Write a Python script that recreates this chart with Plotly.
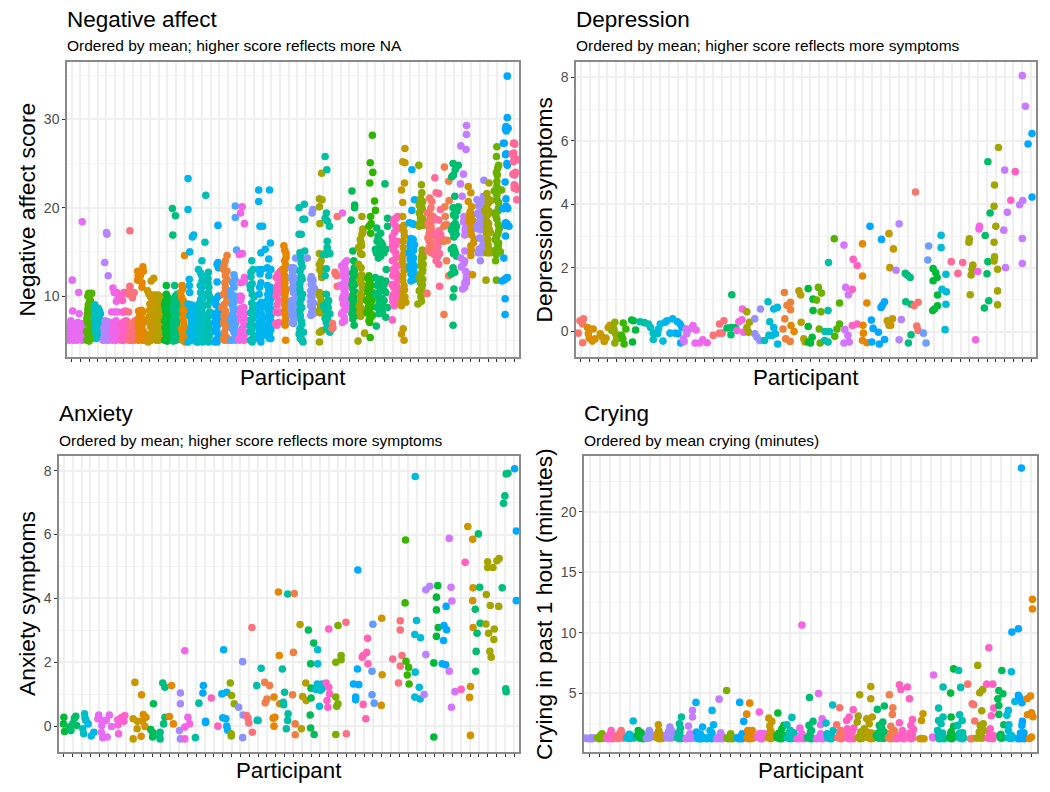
import plotly.graph_objects as go

# ---------- values: each row is one participant, (jittered position, value) ----------
na_colors = ["#E76BF3","#53B400","#00BFC4","#B983FF","#F066EA","#FF61C3","#FB727C","#E58700","#C99800","#B79F00",
             "#00BA38","#00BF7D","#E58700","#00B8E7","#00BFC4","#00BFB0","#00ACFC","#EC8239","#4FA5FF","#F564E3",
             "#00BFB5","#00B4EF","#00B4EF","#FF62BC","#E58700","#7C9AFF","#00BFAE","#8B93FF","#A3A500","#00C19F",
             "#F8766D","#EB6BF0","#00BC56","#A3A500","#2DB600","#00BE70","#FF61C3","#C49A00","#00B0F6","#8FAA00",
             "#F8766D","#FF6A98","#F17E4D","#00BE70","#C77CFF","#CF9400","#A58AFF","#A3A500","#6BB100","#00A9FF","#FF6A98"]
na_points = [
 [(1.05,11.8),(1.8,10.4),(1.1,8.3),(1.85,8.0),(2.2,18.4),(.7,5),(.7,5.8),(.7,6.6),(.9,7.2),(1,5.3),(1,6.2),(1.2,5),(1.25,6.8),(1.3,5.8),(1.6,5),(1.6,6.2),(1.7,7),(1.9,5.5),(1.95,6.5),(2.2,5),(2.2,5.9),(2.3,6.9),(2.4,5.4),(2.45,6.3)],
 [(2.75,5),(3,4.9),(3.3,5.2),(2.7,6),(3.1,6.3),(2.8,7),(3.15,7.4),(2.8,8),(3.1,8.4),(2.9,9),(3.15,9.5),(2.95,10.3),(3.3,10.3),(3.05,5.8)],
 [(3.65,9),(4.2,8.3),(3.6,7.5),(3.8,7.8),(4,7.2),(4.2,7.4),(3.9,6.6),(4.15,6.2),(3.8,5.8),(4,5.4),(3.7,6.9),(4.3,8)],
 [(4.8,13.8),(5.2,12.3),(5,17.2),(5.05,17),(4.85,7.2),(4.6,5),(4.9,5),(5.1,5.3),(4.75,5.9),(5.1,6.2),(4.9,6.8),(5.15,7.1),(4.7,6.4)],
 [(5.75,10.9),(5.6,8.2),(6.2,10.4),(5.7,5),(6.1,5),(6.3,5.6),(5.8,6.3),(6.15,6.9),(5.7,7),(6.3,8.2),(6,6),(6.3,6.7),(6.05,5.4)],
 [(6.7,10),(6.85,9.5),(7,10.4),(6.9,8.2),(6.7,5),(7.1,5.2),(6.8,6),(7.2,6.6),(6.9,7),(7.15,5.8),(7.3,7.2),(7,8.2),(7.2,8.3)],
 [(7.7,17.4),(7.7,11.1),(7.55,10.2),(8,10.4),(7.55,8.2),(7.6,5),(7.9,5),(8.2,5),(7.7,5.6),(8.1,5.7),(7.9,6.2),(7.7,6.9),(8.1,7),(8.3,7.2)],
 [(8.6,12.8),(9.2,13.3),(8.6,11.8),(9.1,11),(8.7,8.3),(9.2,8.2),(8.7,5),(9.2,5),(8.8,5.8),(9.25,6),(8.7,6.5),(9,7.1),(9.3,7.3),(8.75,7.6),(9.1,6.6),(9.35,5.3),(9,8)],
 [(10.15,11.7),(10.45,12),(9.9,10.2),(10.3,10.1),(10.55,9.7),(10.65,8.9),(10,9.1),(10.15,8),(10.55,7.4),(10,6.9),(10.45,6.3),(10,5.7),(10.55,5.2),(9.8,4.8),(10.15,5)],
 [(11,5),(10.8,5.8),(11.3,6.3),(10.7,6.9),(11.2,7.5),(10.9,8),(11.2,8.6),(11,9.4),(11.3,9.9),(10.8,5.2),(11.25,5.1),(11.05,6.7)],
 [(11.9,11.2),(11.9,10.2),(11.7,9),(12.1,9.3),(11.8,8.3),(12.2,8),(11.7,7.2),(12.1,7),(11.9,6.3),(12.2,5.8),(11.7,5),(12,4.9),(12.3,5.1),(11.95,5.5),(12.25,6.5),(11.75,8.9)],
 [(12.6,19.9),(12.95,19.1),(12.65,16.9),(12.85,11.2),(12.8,9.6),(13.2,9.4),(12.7,8.8),(13.1,8.6),(12.9,8),(13.2,7.8),(12.7,7.1),(13.1,7),(12.9,6.3),(13.25,6),(12.7,5.7),(13,5),(12.7,4.9),(13.3,5.1),(13.1,5.5)],
 [(14,14.6),(13.7,11.2),(13.55,10.4),(13.85,9.5),(14.05,8.7),(14.15,7.8),(13.65,6.3),(13.85,5.2),(14.05,4.8),(13.9,7)],
 [(14.4,23.3),(14.4,19.8),(14.9,16.7),(15.05,16.9),(14.6,15),(14.55,11.9),(14.55,11.2),(14.4,9.1),(15,8.9),(14.6,7.8),(15.2,8),(14.8,6.9),(14.6,5.9),(15.3,6.3),(15,5.2),(14.4,4.8),(15.4,4.8),(15.1,5.5)],
 [(16,14),(15.6,13),(16,12.3),(15.8,11.2),(16.15,10.2),(15.65,9.1),(16.15,8.9),(15.8,8),(16.35,7.8),(16,6.9),(15.8,5.7),(16.35,5.9),(16.1,4.8),(15.6,4.8)],
 [(16.45,21.4),(16.35,16.1),(16.75,12.7),(16.7,11.5),(16.75,10.4),(16.95,9.5),(16.55,5.2),(16.75,4.8),(16.65,7),(16.9,6.1)],
 [(17.85,18),(17.75,13.6),(17.9,13.2),(17.75,11.6),(17.9,10),(17.55,9.2),(17.75,8),(18.1,7.4),(17.45,7),(17.75,5.9),(17.45,4.8),(17.75,4.8)],
 [(18.9,14.6),(18.7,14),(18.5,13),(18.9,12.8),(18.9,11.9),(18.7,11),(18.5,10.2),(18.8,9.3),(18.3,8.7),(18.7,7.8),(18.9,6.7),(18.5,5.2),(19,5)],
 [(19.85,20.2),(19.85,18.9),(19.7,12.4),(19.55,11.5),(19.3,10.6),(19.7,9.3),(19.55,8),(19.9,6.9),(19.3,7.2),(19.7,5.9),(19.85,5),(20,15.2)],
 [(20.65,20.1),(20.45,19.4),(20.9,18.2),(20.65,14.8),(20.3,14.7),(20.9,12.1),(20.45,11.5),(20.55,9.9),(20.45,9.5),(20.85,8.7),(20.4,8),(20.9,7.4),(20.65,6.3),(20.2,5.2),(20.85,5),(21.2,5.9),(20.65,5.7)],
 [(21.75,14),(21.65,12.7),(21.55,11.2),(21.8,10.2),(22,8.9),(21.55,6.7),(22,5.5),(21.8,4.8),(22.2,7.8)],
 [(22.55,22),(22.55,20.7),(22.7,17.9),(23,17.9),(22.8,14.9),(23.3,15.3),(22.55,13),(22.6,10.2),(22.8,8.7),(22.55,8.2),(23,7.4),(22.6,6.3),(22.8,4.8),(23.2,5.9)],
 [(23.8,22),(23.9,16),(23.7,14.2),(23.55,13.2),(23.95,13),(23.7,12.3),(23.55,11.2),(23.6,10.2),(23.95,9.7),(23.6,8.5),(23.95,7.8),(23.8,6.9),(23.6,5.9),(23.8,5.2),(23.95,5.2)],
 [(25.05,12.8),(24.55,12.1),(24.75,11.2),(24.95,10.4),(24.55,10),(25.1,11.9),(24.55,8.2),(24.95,8.2),(24.65,6.7)],
 [(25.45,15.7),(25.7,14.8),(25.55,14),(25.3,13),(25.55,12.3),(25.55,11.5),(25.6,10.4),(25.65,9.5),(25.6,8.5),(25.65,7.4),(25.6,6.7),(25.65,5)],
 [(26.8,14.3),(26.3,13.2),(26.7,13),(26.3,12.1),(26.85,11.5),(26.55,10.4),(26.3,9.1),(26.7,8.9),(27.05,9.7),(26.7,8),(26.55,6.9)],
 [(27.3,14.9),(27.85,15.1),(27.2,17),(27.45,17),(27.2,20),(27.8,20.4),(27.65,18.7),(27.85,18.7),(27.45,13.8),(27.3,12.8),(27.55,11.9),(27.3,10.8),(27.45,9.7),(27.3,8.4),(27.45,7.2),(27.3,6.3),(27.45,5.2),(27.65,4.8),(27.2,5.7),(27.7,5.9)],
 [(28.7,19.4),(28.8,19.8),(28.15,14.3),(28.55,11.9),(28.8,11.2),(28.55,10),(28.65,9.7),(29,10.8),(28.55,8.9),(28.8,8.5),(28.55,7.8)],
 [(29.8,23.9),(29.55,21),(29.85,20.9),(29.55,20.1),(29.6,18.2),(29.55,14.8),(29.55,13.6),(29.75,12.8),(29.8,12.1),(29.55,10.4),(29.75,9.5),(29.55,8.4),(29.75,6),(29.55,5.9),(29.55,4.8),(29.85,6.1)],
 [(30.2,25.8),(30.4,24.3),(30.35,19.4),(30.2,18.8),(30.45,18.5),(30.7,17.9),(30.45,16.2),(30.45,15.5),(30,14.7),(30.75,14.8),(30.35,13.1),(30.2,12.3),(30.35,10.2),(30.6,9.5),(30,8.9),(30.35,8.2),(30.75,8),(30.35,7),(30.75,5.9)],
 [(31.35,12.7),(31.55,12.3),(31.6,11.1),(31.05,6.9),(31,6.3),(31.6,19)],
 [(32.5,13.8),(32.1,13.4),(32.7,14),(32.3,12.7),(32.7,11.9),(31.95,11.2),(32.5,10.4),(32.2,9.7),(32.6,8.7),(32.1,8),(32.45,7.2),(32.2,7),(32.7,9.5),(32.2,19.4)],
 [(33.3,21.9),(33.6,20.3),(33.6,20),(33.2,18.6),(33.4,15.1),(33.5,14),(33.55,12.8),(33.5,12.3),(33.3,11.3),(33.7,10.4),(33.3,9.7),(33.7,9.1),(33.3,8),(33.75,7.8),(33.55,6.7)],
 [(34.45,19),(34.55,17.3),(34.25,16.4),(34.05,15.5),(34.45,14.7),(34.05,13.6),(34.25,11.9),(34.55,11.2),(34.25,10.2),(34.15,8.9),(34.45,8),(34,4.9),(34.75,5.8)],
 [(35.65,28.2),(35.4,25.1),(35.7,24),(35.35,22.8),(35.9,20.75),(36,19.7),(35.45,19),(35.5,18.2),(35.25,17.9),(35.45,17.1),(35.25,12.3),(35.25,11.3),(35.65,10.4),(35,9.5),(35.45,8.7),(35,8.2),(35.65,7.8),(35.25,7.2),(35.4,5.3)],
 [(37.1,22.7),(36.15,17.7),(36.6,17.1),(36.2,16.2),(36.8,15.8),(36,15.3),(36.6,15.5),(37.2,15.3),(36.35,14.3),(37.25,13),(36,12.1),(36.6,11.9),(37.2,11.7),(36.2,11.2),(36.8,10.8),(36,10.2),(36.6,9.7),(37.2,10.4),(36.2,8.7),(36.8,8.9),(37.4,8.7),(36.4,8),(37.2,7.6),(36.1,6.6),(37.4,18.8),(37.4,17.9)],
 [(38.15,18.7),(38.55,19),(38.35,17.9),(37.95,16.7),(38.55,16.2),(37.95,15.7),(38.35,14.9),(37.95,14),(38.55,13.4),(38.15,12.7),(38.55,11.9),(37.9,11.3),(38.35,10.4),(37.95,9.9),(38.55,9.5),(38.15,8.9),(37.95,7.3)],
 [(39.4,26.7),(39.15,25.2),(39.4,25.1),(39.35,22.8),(39,22),(39.15,20.6),(39.15,19),(39.3,17.3),(39.2,16.2),(39.15,14.5),(39.3,13.4),(39.15,12.3),(39.3,11.2),(39.15,9.9),(39.5,9.3),(39,8.9),(39.2,6.3),(39,5.7),(39.3,5)],
 [(40.2,24.3),(40.5,20.9),(40.2,19.7),(39.9,18.3),(40.5,18.1),(40.1,16.2),(40.5,15.8),(39.9,14.9),(40.4,14.3),(40,13.4),(40.5,13.4),(40.1,12.5),(40.5,12.3),(40.1,11.7)],
 [(41,24.8),(41.3,22.6),(41.35,21.7),(41.45,20.7),(41.05,20.3),(41.05,19.4),(41.45,18.7),(41.05,17.9),(41.45,14.9),(41.3,14),(41.45,13),(41.05,12.1),(41.4,11.3),(41.05,10.6),(41.25,9.9),(40.9,9.1)],
 [(41.95,10.3),(42.25,21.1),(41.95,19.4),(42.65,19),(42.05,18.3),(42.45,17.5),(42.05,16.6),(42.45,16),(42.05,15.1),(42.55,15.5)],
 [(42.85,23.4),(43,21.7),(43.3,21.6),(43.5,19.8),(43,18.7),(42.8,17),(43.4,17),(43.2,16.4),(43.8,16.4),(43.2,15.6),(42.8,14.7),(43,14),(43.3,13.6),(43.4,11.1)],
 [(43.95,24.6),(44.45,23),(44.5,20.8),(44,20.1),(44.2,18.1),(43.9,17.9),(43.9,16.2),(44.2,14),(44.45,12.3),(43.9,7.9)],
 [(44.95,25),(45.55,24.8),(45.2,24.3),(45,23.7),(44.8,23.5),(45.15,21.3),(44.95,20),(45.55,20.1),(45.2,19),(44.75,17.5),(45.35,17.9),(44.95,17.2),(44.75,15.3),(45.15,15.1),(45.35,14.5),(44.95,13.2),(45.15,12.7),(44.75,12.5),(45.05,10.8),(44.95,9.9),(44.95,6.7)],
 [(46.5,29.3),(46.5,28.3),(45.85,27),(46.45,26.6),(46.15,23.8),(45.8,22.7),(46,21.3),(46.2,19),(46.45,17.9),(46.5,17),(46.3,15.1),(45.85,14.3),(45.9,13.3),(46.4,12.8),(46.7,12.5),(46.5,11.5),(46.3,11),(46.05,10.8)],
 [(46.7,22.4),(47,21.7),(46.7,20.7),(47.1,20.1),(46.85,19),(47.25,18.5),(47,17.5),(47.4,16.4),(47,15.7),(47,14.6),(47.2,12.4)],
 [(48.5,23.1),(47.7,20.9),(48.45,21.3),(48.1,20.5),(47.8,19.4),(48.5,19),(47.7,17.9),(48.15,17.5),(48,16.6),(48.4,15.7),(47.85,14.9),(48.3,14.9),(48.1,14)],
 [(49.1,22.8),(48.85,21.6),(49,20.5),(48.6,19.6),(49.2,19.4),(48.8,18.5),(49.25,17.2),(48.8,17.1),(49,15.8),(48.85,14.9),(49.2,14.9),(48.75,11.8)],
 [(50,26.9),(49.95,25.8),(50.2,24.8),(50.05,23.7),(50,23),(49.7,21.9),(50.55,22),(50,20.9),(50.2,20),(49.8,19.4),(50,18.7),(50.3,17.7),(50.1,17),(49.8,16.4),(50.2,16),(50,15.1),(50.4,15),(49.85,14),(49.95,11.8)],
 [(51.2,34.9),(51.2,30.2),(51.05,29.2),(51.3,29),(51.1,28.7),(50.75,27.3),(51,26),(51.2,24.8),(50.95,22.9),(51.05,21),(50.8,19.9),(51.25,19.9),(51,18.3),(51.4,17.9),(51,16.8),(50.8,14.3),(50.6,11.7),(51.2,12.1),(50.95,9.7),(50.95,7.9)],
 [(52,27.3),(51.75,26.1),(52.25,25.4),(51.85,23.8),(52,22.6),(52,22.2),(52.3,20.9),(52.05,23.7),(51.95,25.8)],
]
# the dense chains of the same 51 participants, a second reading of the columns
na_more_points = [
 [(.8,5.4),(1.1,5.8),(1.5,5.4),(1.5,6.7),(.95,6.8),(1.8,5.9),(2.1,6.4),(2.1,5.4),(1.35,5.2),(1.35,6.4)],
 [(2.9,5.5),(3.2,6),(3,6.8),(3.05,7.7),(2.85,8.5),(3.05,9.5),(3.2,8.9),(2.75,7.5),(2.85,10)],
 [(3.7,6.3),(4.05,5.9),(3.9,7.4),(4.1,6.8),(3.85,5.2),(4.3,7),(3.6,8.4),(4.05,8.6)],
 [(4.8,5.4),(5.05,5.7),(4.95,6.4),(5.2,6.6),(4.7,5.2),(5.2,5)],
 [(5.9,5.3),(5.85,5.8),(6.2,6.2),(5.9,6.6),(6.1,7.2),(5.65,5.9),(6,8.2),(5.9,10.4),(6.35,9.9),(6.15,9.4)],
 [(6.85,5.4),(7,5),(7.25,5.4),(6.95,6.4),(7.3,6.1),(7.1,7.1),(6.75,6.8)],
 [(7.75,5.2),(8.05,5.3),(8.3,5.4),(7.85,5.8),(8.25,6.2),(8,6.7),(8,9.8),(8.2,10.4),(7.65,10.6)],
 [(8.65,7.1),(8.9,8),(9.05,8.4),(8.9,5.3),(9.1,5.7),(9,6.2),(8.8,7),(9.2,7),(8.9,12.3),(9.25,12.8),(8.65,12.3),(9.1,11.5),(9.4,5)],
 [(9.85,5.3),(10.4,5.8),(10.1,6.5),(10.3,7),(9.9,7.6),(10.25,7.9),(10.5,8.3),(9.95,8.4),(10.35,9.3),(10.1,9.9),(10.6,10.1),(9.75,10.6)],
 [(10.75,5),(11.1,5.5),(10.95,6.2),(11.3,6.9),(10.85,7.4),(11.05,7.8),(11.25,8.1),(10.8,8.6),(11,8.9),(11.15,9.6),(10.95,10.1),(11.3,5.7)],
 [(11.85,5.8),(12,6.6),(12.25,7.3),(11.9,7.7),(12.1,8.2),(11.8,9.4),(12.1,9.8),(12,8.6),(11.75,6.4),(12.15,5.2),(11.85,5.1)],
 [(12.85,5.4),(13.05,5.9),(12.75,6.5),(13.05,6.6),(13.25,7.2),(12.9,7.5),(13.1,8.1),(12.75,8.3),(13,9),(13.25,8.9),(12.95,10),(13.15,10.2)],
 [(13.75,5),(14.1,5.5),(13.75,5.8),(14,6.5),(13.8,7.6),(14.05,8),(13.8,8.4),(13.95,9),(13.65,9.9),(13.8,10.8),(14.1,6)],
 [(14.75,5),(14.95,5.7),(15.2,5.2),(14.7,6.3),(15.05,6.5),(15.25,7),(14.75,7.4),(14.95,7.6),(15.3,7.6),(14.7,8.5),(15.1,8.4),(14.75,9),(14.6,10.4),(14.8,5.4),(15.35,5.6)],
 [(15.75,5),(16.05,5.3),(16.3,5.4),(15.65,6.4),(16.1,6.2),(16.3,6.7),(15.85,7.4),(16.1,7.5),(15.7,8.5),(16,8.4),(15.85,9.6),(16.1,9.7),(15.85,10.4),(16,11),(16,11.7),(15.85,12.6),(16.3,7.1)],
 [(16.6,5),(16.85,5.5),(16.6,6),(16.8,6.5),(16.75,7.7),(16.9,8.2),(16.7,9),(16.85,10),(16.8,11),(16.7,12)],
 [(17.6,5),(17.9,5.4),(17.5,6),(17.65,6.4),(17.9,6.8),(17.55,7.6),(17.85,7.6),(17.45,8),(17.95,8.4),(17.65,9),(17.65,9.7),(17.85,13.8)],
 [(18.6,5),(18.85,5.3),(18.6,5.9),(18.75,6.4),(18.5,7),(18.8,7.4),(18.55,7.7),(18.7,8.3),(18.55,9),(18.8,10),(18.7,10.5),(18.65,11.5),(18.7,12.3),(18.55,13.5)],
 [(19.4,5),(19.7,5.2),(19.5,6.3),(19.8,6.3),(19.5,7),(19.75,7.5),(19.45,7.6),(19.6,8.5),(19.85,8.5),(19.5,9),(19.55,9.7),(19.8,10),(19.7,11),(19.8,11.9),(19.35,10)],
 [(20.35,5),(20.6,5.2),(20.85,5.5),(20.45,5.8),(20.6,6),(20.85,6.7),(20.45,7.3),(20.65,7.7),(20.85,8),(20.5,8.6),(20.65,8.3),(20.45,10),(20.75,11.6),(20.9,11.8)],
 [(21.6,5),(21.85,5.2),(21.55,6),(21.8,6.3),(22,6.6),(21.65,7.3),(21.9,7.5),(21.6,8.1),(21.85,8.6),(21.75,9.2),(22,9.9),(21.6,10.8),(21.8,11.4),(21.65,12.2),(21.9,13)],
 [(22.6,5.1),(22.85,5.4),(22.6,5.8),(22.95,6),(22.7,6.6),(23.05,6.7),(22.6,7),(22.85,7.2),(22.6,7.7),(22.85,8),(22.6,9),(22.85,9.3),(22.65,11),(22.8,11.5),(22.7,12.5),(22.9,13)],
 [(23.6,5.5),(23.8,5.8),(23.95,6.2),(23.6,6.6),(23.75,7.4),(23.95,7.2),(23.55,7.6),(23.75,8.2),(23.95,8.5),(23.55,8.9),(23.8,9.2),(23.6,9.6),(23.9,10.4),(23.7,10.8),(23.9,11),(23.75,13)],
 [(24.5,6.9),(24.85,7),(24.75,8.1),(24.65,9),(24.85,9.5),(24.6,10.6),(24.9,10.8),(24.6,11),(24.9,11.5),(24.75,12.5),(24.95,12)],
 [(25.55,7),(25.65,7.8),(25.6,8),(25.55,9),(25.7,9),(25.55,10),(25.7,10.7),(25.55,11),(25.65,12),(25.55,13),(25.65,13.5),(25.7,14.4),(25.55,15.2)],
 [(26.4,7),(26.35,7.8),(26.7,7.5),(26.3,8.5),(26.55,8.3),(26.85,8.7),(26.4,9.5),(26.7,9.4),(26.85,10),(26.45,10.9),(26.7,10.8),(26.5,11.6),(26.8,12),(26.45,12.7),(26.55,13.2)],
 [(27.3,9.2),(27.5,8.7),(27.35,10.3),(27.6,10.2),(27.3,11.4),(27.45,12.2),(27.55,13.3),(27.4,14.4),(27.35,7.8),(27.5,6.8),(27.3,5.8),(27.45,6),(27.55,5),(27.35,5.2)],
 [(28.55,9.4),(28.85,9.2),(28.55,10.6),(28.85,10.2),(28.6,11.3),(28.8,11.8),(28.65,8.2),(28.85,8),(28.6,12.2)],
 [(29.6,13),(29.7,13.2),(29.75,14),(29.8,12.5),(29.6,10),(29.8,10.2),(29.65,9),(29.7,8.8),(29.6,8.1)],
 [(30.2,7.5),(30.5,7.3),(30.25,8.6),(30.55,8.7),(30.3,9),(30.5,9.3),(30.35,6.3),(30.55,6.6),(30.55,7.9),(30.4,15),(30.55,14.9),(30.3,14.7)],
 [(31.1,6.4),(31.4,12.5)],
 [(32.4,13.6),(32.55,13),(32.3,13),(32.6,12.4),(32.35,12.2),(32.55,11.5),(32.3,11.4),(32.6,11),(32.35,10.8),(32.6,10.1),(32.3,10),(32.55,9.2),(32.3,9.1),(32.5,8.4),(32.25,8.2),(32.4,7.6)],
 [(33.4,11.8),(33.6,11.3),(33.4,10.8),(33.6,10.1),(33.4,10.1),(33.55,9.5),(33.4,9),(33.6,8.7),(33.4,8.5),(33.55,8.2),(33.4,7.4),(33.6,12.3),(33.35,12.6),(33.55,13.2)],
 [(34.3,14.8),(34.4,15.7),(34.35,16.1),(34.45,17),(34.55,17.6),(34.35,13.2),(34.4,12.4),(34.3,11.5),(34.5,10.9),(34.4,10),(34.3,9.5),(34.35,8.6),(34.5,8.4),(34.3,7.7),(34.2,8.2)],
 [(35.1,12),(35.4,11.8),(35.2,11),(35.5,11.2),(35.1,10.5),(35.4,10),(35.6,9.5),(35.2,9.7),(35.5,8.9),(35.2,8.8),(35.45,8),(35.2,8),(35.4,7.5),(35.35,7)],
 [(36.3,16.8),(36.5,16.2),(36.7,16),(36.4,15.4),(36.85,15),(36.3,15),(37,14.9),(36.6,14.5),(36.1,14.9),(36.35,11.5),(36.8,11.5),(37,11.3),(36.4,10.4),(36.6,10.8),(37,10.6),(36.4,9.7),(36.8,9.7),(36.4,9),(37,9.5),(36.6,8.5),(36.8,8.1)],
 [(38.2,17.2),(38.5,17.6),(38.1,18.3),(38.4,18.8),(38,16.2),(38.35,15.8),(38.1,15.2),(38.4,14.4),(38.15,14),(38.4,13.4),(38.05,13),(38.4,12.6),(38,12.3),(38.4,11.3),(38.1,11),(38.5,10.9),(38.1,10.2),(38.5,10),(38,9.4),(38.35,9.1),(38.1,9.7)],
 [(39.3,18),(39.1,17.8),(39.35,16.8),(39.2,15.5),(39.3,14.9),(39.1,13.9),(39.3,12.9),(39.15,11.8),(39.35,10.7),(39.15,10.5),(39.4,9.9),(39.05,9.4)],
 [(40.1,16.5),(40.35,16.4),(40,15.8),(40.2,15.5),(40.4,15.2),(40.05,15.2),(40.2,14.6),(40,14.2),(40.3,13.8),(40.1,13.9),(40.3,13),(40,13),(40.2,12.6),(40.4,12.8),(40.3,12),(40.5,11.9),(40.25,18.2)],
 [(41.2,21),(41.3,20.4),(41.2,19.7),(41.4,19.9),(41.2,18.9),(41.45,18),(41.15,18.3),(41.4,15.2),(41.5,14.4),(41.35,14.5),(41.5,13.6),(41.25,13.4),(41.4,12.7),(41.2,12.5),(41.45,11.9),(41.2,11.5),(41.35,10.9),(41.25,10.4),(41.3,9.4)],
 [(42.2,19.4),(42.4,20),(42.3,18.7),(42.5,18.5),(42.15,17.8),(42.4,17.9),(42.2,17.1),(42.5,16.8),(42.2,16.2),(42.4,15.6),(42.2,15.5),(42.45,14.9),(42.5,20.7)],
 [(43.3,18.6),(43.5,17),(43.35,16.2),(43.55,16.2),(43.15,15),(43.4,14.8),(43.15,14.4),(43.35,17.4)],
 [(44,18),(44.3,16.3),(44.05,19)],
 [(45,19.2),(45.4,19.6),(45.2,18.2),(45,18),(45.3,17),(45.05,16.7),(45,15.5),(45.2,14.8),(45,14.8),(45.2,17.5)],
 [(46.15,18.4),(46.35,17.5),(46.3,16.9),(46.5,11.9),(46.3,11.5),(46.5,12.2),(46.2,13.7),(46.3,14)],
 [(46.9,19.5),(47.15,19.2),(46.8,18.4),(47.05,18.2),(47.3,17.7),(47.1,16.9),(47.3,16),(47.05,15.2)],
 [(47.9,20.2),(48.25,20.8),(48.4,20),(47.9,19.2),(48.3,18.5),(47.95,18.4),(48.3,17.9),(47.8,17.6),(48.2,16.5),(48.45,16),(47.95,15.3),(48.25,15.5),(48.1,18.9)],
 [(49,21),(49.3,20.8),(48.8,20),(49.1,19.6),(48.85,19.1),(49.05,18.2),(48.8,17.8),(49.15,17.5),(48.95,16.4),(49.1,15.3)],
 [(50.1,24.5),(49.95,24),(50,22.4),(50.3,22),(50,21.4),(50.2,20.6),(50.1,19.6),(49.9,19),(50.15,18.1),(50.2,17.4),(49.95,16.7),(50.15,15.6),(49.85,15.2),(49.95,14.7),(50.05,16)],
 [(51,28.9),(50.85,27.3),(51.05,26.1),(51.15,25),(51.05,20.2),(51.2,20),(51,18),(51.15,18.2),(50.8,11.8),(51.05,12),(50.65,19.9)],
 [(51.9,27.3),(52.05,27.2),(51.95,26.2),(52.2,25.5),(51.9,25.2),(52.1,25.5),(52.15,24),(52.1,22.5),(52.3,22.1)],
]

dep_colors = ["#F8766D","#D89000","#C99800","#C49A00","#8FAA00","#39B600","#00BA38","#00BFA5","#00BFC4","#00BAE0",
              "#00B4EF","#00B0F6","#D575FE","#EB6BF0","#F066EA","#FA7476","#FB727C","#00BE67","#F564E3","#A3A500",
              "#9590FF","#00BFC4","#00B9E3","#EC8239","#E58700","#B79F00","#00BA38","#6BB100","#00BFAE","#53B400",
              "#D575FE","#FF61C3","#E58700","#00A9FF","#00A9FF","#C49A00","#B983FF","#00BF7D","#F8766D","#6F9EFF",
              "#00BA38","#00BCD8","#FF6A98","#FF6A98","#A3A500","#F564E3","#00BE67","#A3A500","#C77CFF","#FF61C3","#C77CFF","#00A9FF"]
dep_points = [
 [(.7,-.05),(.9,.34),(1.3,.4),(1.2,.24),(1.2,-.35)],
 [(1.75,.13),(2,.08),(2.4,.08),(1.85,-.07),(1.95,-.21),(2.3,-.3),(2.6,-.23)],
 [(3.2,-.07),(3.45,-.18),(3.65,-.31)],
 [(4.1,.13),(4.3,.2),(3.85,-.2)],
 [(4.85,.29),(4.75,.08),(4.95,-.07),(5.05,-.23),(4.85,-.36),(4.5,.03)],
 [(5.8,.27),(6.1,.08),(5.6,-.12),(5.9,-.39),(5.75,-.23)],
 [(6.75,.36),(6.95,.34),(7.2,.05),(6.85,-.33)],
 [(7.7,.31),(8.65,.24),(8.2,.28)],
 [(8.9,.13),(9.2,-.05),(9.2,-.25),(9.7,-.07)],
 [(9.8,.08),(10,.24),(10.3,-.3),(10.55,.29)],
 [(10.75,.34),(11.1,-.05),(11.4,.4),(11.7,-.05)],
 [(11.95,.31),(12.25,.24),(12.45,.13),(12.3,-.36),(12,-.07)],
 [(12.6,-.23),(12.9,.08),(13,-.07),(13.3,.08),(12.7,-.31)],
 [(13.7,.19),(14.05,.05),(13.95,-.36),(14.45,-.36)],
 [(14.8,-.26),(15.3,-.35)],
 [(16,-.12),(16.7,-.05)],
 [(16.7,.24),(17.2,.34),(17,-.05)],
 [(17.55,.11),(18,.13),(18.1,1.16),(18,-.1),(18.5,.13)],
 [(18.7,.03),(18.9,.31),(19.25,.37),(19.3,.71),(19.45,-.02)],
 [(19.8,.62),(20.1,.29),(19.8,.13),(20,-.02)],
 [(20.7,.4),(20.7,-.07),(20.95,-.18),(21.35,.71),(21.25,-.28)],
 [(21.8,-.28),(22.2,.94),(22.4,.31),(22.3,-.12)],
 [(22.85,.71),(23.25,.76),(22.85,.13),(23.05,-.07),(23.3,-.39),(22.65,-.12)],
 [(24.05,1.23),(24.1,.4),(24.35,.83),(24.75,.92),(24.75,.69),(24.2,-.23),(24.7,-.31),(23.9,.08)],
 [(24.8,.19),(25.15,0)],
 [(25.7,1.28),(25.9,1.15),(25.95,.29),(26.25,-.23),(26.4,-.33)],
 [(26.75,-.33),(26.75,1.35),(26.75,.16),(27.3,1.02),(27.3,.66),(27.2,-.18),(27,-.36)],
 [(27.7,.99),(27.9,1.39),(28.25,1.21),(28.2,.62),(28,.08),(28.1,-.36)],
 [(29,.66),(29.05,2.17),(28.65,0),(29.15,0),(29,-.33),(28.6,-.28)],
 [(29.7,2.92),(30.3,.9),(29.75,-.15),(30,.08),(30.3,.24)],
 [(30.8,2.72),(30.9,.06),(31,1.39),(31.3,1.16),(30.8,-.36),(31.4,-.33),(31.25,-.12)],
 [(31.75,1.33),(31.85,2.27),(32.3,2.08),(31.75,.19),(32.3,.24)],
 [(32.9,2.76),(32.9,1.75),(33.4,.9),(32.95,.2),(33,-.05),(32.9,-.28),(33.4,-.35)],
 [(33.75,3.31),(33.9,.36),(34.1,.1),(33.95,-.33),(34.7,-.02)],
 [(34.8,-.39),(35.05,2.9),(35,.76),(35.4,.94),(35.15,.83),(35.4,-.25)],
 [(35.9,3.08),(36.4,2.6),(36,2.01),(35.9,.2),(36.3,.4),(35.7,.34),(36.1,.2)],
 [(36.7,1.93),(37.05,3.39),(37.3,.38),(37.05,-.26)],
 [(37.75,1.83),(38,1.77),(38.3,1.7),(37.8,.94),(38.4,.86),(38.4,-.1),(38.1,-.36)],
 [(38.9,4.39),(38.75,.81),(39.2,.92),(39.05,.17),(39.2,.03)],
 [(39.8,-.05),(40.1,-.36),(40.4,2.69),(40.3,2.25)],
 [(40.9,1.98),(41.2,1.85),(41.35,1.7),(40.9,1.6),(40.85,.66),(41.05,.71),(41.4,.81),(41.4,1.15)],
 [(41.8,3.03),(41.8,2.64),(42.35,1.8),(41.9,1.33),(42.4,1.25),(42.35,.86),(42.25,.06)],
 [(42.95,2.2)],
 [(43.7,1.83),(44.25,2.17)],
 [(44.95,2.81),(45,2.92),(45.4,2.09),(45.2,1.78),(45.1,1.16),(45.3,1.96)],
 [(45.95,1.89),(45.7,-.26),(46.15,3.31),(46.1,3.23)],
 [(46.8,3.02),(47.1,5.34),(47.35,3.73),(47.1,2.2),(47,1.82),(47.2,.97),(46.7,.74)],
 [(48.3,5.79),(47.85,4.61),(47.8,3.94),(48,3.31),(47.8,2.81),(47.85,2.35),(47.8,2.22),(48.2,1.96),(48.2,1.28),(48.2,.84)],
 [(49,5.08),(49.3,3.75),(48.9,3.19),(49.1,2.01)],
 [(50.2,5.03),(49.7,4.13)],
 [(51,8.05),(51.35,7.09),(50.7,3.99),(51.05,4.12),(51,2.93),(51,2.14)],
 [(52.1,6.23),(51.65,5.9),(52.1,4.23)],
]

anx_colors = ["#00BA38","#00BE67","#00BFC4","#00B8E7","#E76BF3","#E76BF3","#F564E3","#FF61CC","#C49A00","#D89000",
              "#00BC56","#00BF7D","#E58700","#A58AFF","#F564E3","#00C19F","#00A9FF","#FF61C3","#00B0F6","#8FAA00",
              "#8B93FF","#FB727C","#00BFAE","#F17E4D","#E58700","#00BFA5","#EF7F45","#B79F00","#00BC56","#00BDD2",
              "#FF61C9","#7CAE00","#FB7085","#00ACFC","#FF63B6","#619CFF","#CF9400","#FF6C91","#FB727C","#39B600",
              "#00BCD8","#B983FF","#00BA38","#00A9FF","#D575FE","#FF61C3","#CF9400","#00BE70","#A3A500","#A3A500","#00BF7D","#00A9FF"]
anx_points = [
 [(1,.28),(.96,.07),(1.08,-.17)],
 [(1.8,-.14),(2,.07),(2.2,.25),(2.35,.31),(2.45,.02),(1.6,-.03)],
 [(3.35,.39),(3.5,.18),(3.15,-.08),(3.25,-.24),(3.4,.25)],
 [(3.75,.07),(4.1,-.31),(4.4,-.19)],
 [(4.95,.35),(4.85,.23),(5.3,.18),(5.3,.02),(5.25,-.19),(5.4,-.36)],
 [(5.9,-.34),(6.15,.35),(5.8,.18),(6.4,-.01)],
 [(7.2,-.24),(7.15,.04),(7.1,.2)],
 [(7.55,.28),(7.9,.33),(7.8,.15)],
 [(8.85,.23),(9.05,1.37),(9.35,.15),(8.85,-.4),(9.3,-.08)],
 [(9.8,.98),(10,.36),(10.3,.28),(9.75,-.32),(10.2,-.01),(9.9,.15)],
 [(11.15,.7),(10.85,-.11),(11.05,-.34),(11.1,-.21)],
 [(11.9,-.4),(11.9,-.19),(12.2,1.35),(12.45,1.22),(12.45,.28),(12.3,.07),(11.8,-.29)],
 [(12.95,.3),(13.2,1.27),(13.4,.07)],
 [(14.2,1.04),(14.2,.7),(14.1,-.14),(14.2,-.4)],
 [(14.7,2.36),(14.7,-.4),(14.7,-.03),(15.05,.28),(15.25,.07)],
 [(15.9,-.36),(16.3,.72)],
 [(16.8,1.27),(16.75,1.04),(17.05,.15),(17.05,.11)],
 [(17.7,.88),(18.45,0)],
 [(18.9,1.01),(19.45,1.06),(19.1,2.39),(19,.26),(19.35,.23),(19.45,0),(19.55,-.13)],
 [(19.85,1.35),(20,.96),(20.3,.7),(19.95,-.24),(19.95,-.31)],
 [(20.8,.59),(21.25,2.02),(21.3,.35),(21.25,-.36)],
 [(21.7,.33),(21.95,.1),(21.85,.25),(22.3,3.09),(22.35,-.19)],
 [(22.9,.18),(23,.18),(23.35,1.81),(22.85,1.27)],
 [(23.75,1.37),(24.3,1.27),(24,.85),(23.8,.73)],
 [(24.8,.91),(25.3,4.2),(25.4,2.21),(25.45,.7),(24.9,.28),(24.7,.25),(24.8,0)],
 [(26.35,4.14),(25.75,1.79),(26,1.06),(25.85,.75),(25.9,.67),(26.2,-.08),(26.4,.39),(26.35,.18)],
 [(27.1,4.15),(27,2.31),(26.9,.98),(27.2,.07),(27.2,-.27)],
 [(27.75,3.18),(28.4,1.35),(28.05,.93),(28.45,.8),(27.9,-.08)],
 [(28.7,3.01),(29.3,2.6),(28.95,1.95),(29,1.19),(29,.88),(28.9,.35),(28.95,-.06),(29.35,-.26)],
 [(29.75,2.39),(29.75,1.95),(29.7,1.32),(29.55,1.15),(29.95,.62),(30.25,1.17),(30.25,1.32),(30.05,1.12)],
 [(31,3.04),(30.7,1.35),(31,1.22),(31.1,1.01),(30.8,.8),(30.9,.59)],
 [(32.05,3.15),(31.8,2),(32.4,2.21),(32.4,2.08),(31.8,.91),(32.05,.7),(31.9,.62),(31.8,-.26)],
 [(32.95,3.25),(33,-.24)],
 [(33.8,1.32),(34.25,1.79),(34.05,.91),(34.05,.83),(34.4,1.3),(34.3,4.89)],
 [(35.4,2.75),(35.3,2.31),(34.9,2.21),(34.8,2.16),(35.45,1.95),(34.9,.68),(35.2,.23)],
 [(36,3.19),(35.9,1.72),(35.9,.98),(36.15,.72)],
 [(37,3.38),(37.05,1.61),(36.95,.65)],
 [(38.25,2.1)],
 [(39.1,3.3),(39.1,3.01),(39.3,2.21),(39.1,1.88),(38.9,1.35)],
 [(39.7,5.83),(39.65,3.86),(39.75,2.03),(40.05,1.84),(39.9,1.6),(40.1,1.32)],
 [(40.8,7.82),(40.95,3.31),(40.75,2.87),(41.4,2.77),(40.8,1.69),(41.25,1.22),(40.75,.91),(41.35,.85)],
 [(42,4.27),(42.45,4.38),(42,2.24),(41.8,.99)],
 [(43.35,4.4),(43.2,4.04),(43.2,3.64),(43.4,3.09),(43.2,2.81),(42.9,1.98),(42.9,-.34)],
 [(44.3,3.75),(44.05,3.15),(44.35,3.02),(44,2.68),(43.85,1.95),(44.25,1.92)],
 [(44.65,5.88),(44.85,4.35),(44.95,3.92),(44.65,1.72),(45.3,1.08),(44.9,.59)],
 [(46.45,5.13),(46,1.15)],
 [(46.75,6.25),(47.3,5.85),(47.35,4.33),(47.3,3.93),(47.35,3.09),(47.05,1.24),(46.95,.9),(47.05,-.29)],
 [(47.95,6.02),(48.1,4.35),(47.6,3.66),(48.15,3.22),(47.8,2.91),(47.7,2.34),(47.65,1.72)],
 [(49,5.15),(49,4.97),(48.85,4.12),(49.3,3.78),(48.8,3.2),(49.1,2.91),(49.25,2.34),(49.4,2.16)],
 [(49.6,4.97),(50.05,5.18),(50.3,5.25),(50.25,3.75),(49.75,3.04),(49.7,2.71)],
 [(51.3,7.92),(51.1,7.9),(50.95,7.21),(50.8,6.98),(50.65,4.33),(51.05,1.17),(51.1,1.08)],
 [(52.05,8.06),(52.25,6.11),(52.25,3.93)],
]

cry_colors = ["#A58AFF","#7CAE00","#FF61C3","#FB727C","#00BCD8","#00BA38","#9590FF","#C49A00","#A58AFF","#00BF9D",
              "#C77CFF","#00B0F6","#00B4EF","#C77CFF","#7CAE00","#00A9FF","#E58700","#F564E3","#C49A00","#00BA38",
              "#00BFB5","#F564E3","#00BE70","#E76BF3","#00BFC4","#F8766D","#FF61C3","#A3A500","#B79F00","#00BE67",
              "#F17E4D","#FF61C3","#FF61C3","#C99800","#E76BF3","#00BFAE","#00BA38","#00C0AF","#F8766D","#A3A500",
              "#FF61C3","#00BC56","#00BBDA","#00A9FF","#E58700"]
cry_points = [
 [(.6,1.28),(1,1.23),(1.45,1.28),(1.25,1.23)],
 [(1.95,1.23),(2.25,1.64),(2.15,1.28)],
 [(2.85,1.23),(3.15,1.91),(3,1.56),(3.25,1.23)],
 [(3.65,1.28),(4.15,1.91),(4,1.64),(4.4,1.28)],
 [(4.85,1.28),(5.05,1.56),(5.35,2.69),(5.4,1.28)],
 [(5.85,1.91),(6,1.28),(6.15,1.72),(6.35,1.23)],
 [(6.75,1.28),(6.95,1.91),(7.15,1.56)],
 [(7.85,2.38),(7.75,1.64),(7.95,1.23),(8.15,1.28)],
 [(8.65,1.5),(9,2.19),(9.15,1.91),(8.85,1.78),(9.45,1.5),(9,1.28)],
 [(10.15,3.02),(9.95,2.47),(9.85,1.72),(9.95,1.23)],
 [(11.25,3.57),(11.25,3.02),(10.85,2.27),(10.6,1.23),(11,1.64),(11.45,1.28)],
 [(11.6,4.23),(11.65,1.78),(12.25,2.19),(12.15,1.23),(11.85,1.23)],
 [(13.2,3.57),(13.35,2.38),(13,1.91),(12.65,1.23),(13.15,1.23)],
 [(13.9,4.5),(14.05,1.72),(13.65,1.23),(14.25,1.23)],
 [(14.65,5.22),(15.05,1.64),(14.8,1.23),(15.25,1.23)],
 [(15.95,4.23),(16.35,2.66),(16.2,1.64),(15.85,1.23),(16.2,1.23)],
 [(16.95,4.17),(16.65,3.26),(16.75,1.91),(17.05,1.64),(16.95,1.23),(17.3,1.28)],
 [(17.9,3.43),(17.9,1.64),(18.4,1.64),(18.15,1.23)],
 [(18.85,2.93),(19.15,2.66),(19,1.91),(19.05,1.23),(18.95,2.3)],
 [(19.75,3.35),(20.15,2.05),(19.65,1.5),(20,1.23),(20.35,2.33)],
 [(21.15,2.99),(20.65,2.38),(21,1.91),(21.35,1.72),(21,1.23)],
 [(22.15,10.62),(21.95,2.11),(22.15,1.64),(21.65,1.23),(22.35,1.23)],
 [(22.9,4.64),(23.25,2.66),(22.85,2.33),(23,1.78),(23.05,1.23)],
 [(23.8,4.97),(24.15,2.88),(24,2.38),(24,1.64),(23.6,1.23),(24.25,1.23)],
 [(25.2,4.01),(24.55,2.52),(24.65,1.64),(25.25,1.91),(25.05,1.23)],
 [(25.9,3.79),(25.6,2.38),(26,1.91),(26.05,1.23)],
 [(26.85,3.02),(26.6,2.74),(26.65,2.05),(27,1.64),(26.85,1.23),(27.25,1.23),(27.25,3.62),(27.3,2.11)],
 [(27.9,4.86),(27.75,3.1),(27.65,2.6),(28,1.78),(27.9,1.23),(28.35,2.05)],
 [(29,5.55),(29,4.53),(29.15,3.02),(28.6,2.88),(28.85,2.47),(29,1.23),(28.65,1.78)],
 [(29.65,3.65),(30.35,3.93),(30.2,2.6),(29.85,2.33),(30,1.91),(29.55,1.5),(29.85,1.28),(30.35,1.78)],
 [(30.85,4.86),(31.2,3.79),(31.15,3.24),(31,2.25),(31.35,1.91),(30.95,1.23)],
 [(31.85,5.69),(32,5.3),(31.85,2.55),(31.55,1.23),(32.15,1.91),(32.3,1.23)],
 [(32.65,5.5),(32.85,4.53),(33.15,2.82),(33,2.33),(33.15,1.72),(33,1.23)],
 [(34.2,3.29),(34.05,2.74),(33.9,1.23),(34.3,1.23)],
 [(35.25,6.49),(35.15,1.36)],
 [(35.75,3.76),(36.2,5.5),(35.75,2.74),(36.2,3.02),(36,2.47),(35.65,1.91),(35.8,1.23),(36.3,1.23)],
 [(36.95,5),(37.25,7),(37,3.02),(37.25,2.25),(36.95,1.64),(37.05,1.23)],
 [(37.75,6.87),(37.95,5.47),(37.85,3.21),(38.1,2.74),(37.65,2.33),(38.15,1.72),(37.85,1.28),(38.15,1.23)],
 [(38.65,5.74),(39.1,4.12),(39.25,4.04),(39.35,2.69),(38.95,1.23)],
 [(39.65,7.29),(39.85,5.03),(40.15,5.3),(40.05,3.54),(40.2,2.47),(39.9,2.33),(39.8,1.78),(39.55,1.28),(40,1.28)],
 [(40.75,8.75),(40.55,5.74),(41.15,5.74),(41.25,3.76),(41,3.13),(40.9,2.05),(40.65,1.28),(41.15,1.23)],
 [(42.05,6.87),(41.75,5.22),(42.15,4.95),(41.65,4.53),(41.75,3.98),(41.75,3.24),(42.25,2.38),(41.85,1.5),(42,1.28)],
 [(43,6.76),(42.7,3.57),(42.55,3.16),(42.75,2.38),(42.7,1.91),(42.85,1.28),(43.35,4.31)],
 [(43.05,10.04),(43.7,10.32),(43.7,4.81),(44,23.6),(43.85,4.59),(44.05,4.2),(44.1,2.66),(44.05,2.33),(44,1.64),(43.7,1.23),(44.3,1.23),(44.25,1.72)],
 [(45.1,12.75),(45.1,11.95),(44.9,4.75),(44.55,4.53),(45,3.37),(44.6,3.21),(45.15,3.04),(45,1.36)],
]
# the low band along the floor of the crying panel, a second reading of the same 45 participants
cry_more_points = [
 [(.75,1.25),(1.15,1.3)],[(1.8,1.3),(2.1,1.5),(2.3,1.25)],[(2.7,1.3),(3,1.3),(3.1,1.6),(3.35,1.35)],[(3.7,1.5),(3.85,1.25),(4.1,1.3),(4.25,1.6)],
 [(4.7,1.3),(5,1.25),(5.25,1.35),(4.95,1.6)],[(5.75,1.5),(5.9,1.7),(6.1,1.3),(6.25,1.5)],[(6.65,1.25),(7,1.3),(7.2,1.4),(6.85,1.6)],[(7.7,1.3),(7.9,1.9),(8.05,1.6),(8.25,1.25)],
 [(8.7,1.3),(8.95,1.5),(9.25,1.3),(9,1.8),(9.35,1.7)],[(9.75,1.3),(10,1.7),(10.2,1.25),(10.05,2.1)],[(10.75,1.3),(11.05,1.25),(11.3,1.3),(11.2,1.6)],[(11.75,1.3),(12,1.25),(12.05,1.6),(12.3,1.35)],
 [(12.8,1.3),(13,1.3),(13.3,1.3),(13.2,1.7)],[(13.8,1.3),(14,1.25),(14.15,1.5)],[(14.7,1.3),(15,1.25),(15.15,1.4)],[(15.7,1.3),(16,1.3),(16.3,1.3),(16.1,1.45)],
 [(16.7,1.3),(16.85,1.6),(17.15,1.4),(17.2,1.9),(16.8,1.25)],[(17.75,1.4),(18,1.25),(18.3,1.35),(18.15,1.65)],[(18.8,1.3),(18.95,1.5),(19.2,1.35),(19.1,1.75)],[(19.7,1.3),(19.85,1.7),(20.15,1.25),(20.3,1.5),(20,1.55)],
 [(20.7,1.3),(20.85,1.7),(21.15,1.3),(21.3,1.25),(21.05,1.5)],[(21.8,1.25),(22,1.3),(22.2,1.25),(22.05,1.5)],[(22.7,1.3),(22.9,1.5),(23.2,1.25),(23.1,1.9)],[(23.75,1.3),(24.05,1.25),(24.15,1.5)],
 [(24.7,1.3),(24.9,1.25),(25.2,1.3),(25.05,1.6)],[(25.7,1.3),(25.9,1.6),(26.2,1.3),(26.25,1.8)],[(26.7,1.3),(27.05,1.3),(27.15,1.8),(26.8,1.75)],[(27.75,1.35),(28.1,1.25),(28.3,1.4),(28.05,1.6)],
 [(28.75,1.3),(29.2,1.25),(29.1,1.7),(28.9,1.4)],[(29.7,1.3),(30,1.3),(30.3,1.25),(30.15,1.6),(29.75,1.7),(30.1,2.1)],[(30.75,1.3),(31.1,1.25),(31.2,1.6),(31,1.7)],[(31.75,1.3),(32,1.3),(32.2,1.6),(31.9,1.5)],
 [(32.75,1.3),(32.9,1.7),(33.2,1.3),(33.25,2)],[(34.05,1.25)],[(35.2,1.3)],[(35.9,1.3),(36.05,1.25),(36.15,1.7),(35.75,1.5)],
 [(36.8,1.3),(37.2,1.3),(37,1.8),(37.2,1.5)],[(37.85,1.7),(38,1.3),(38.1,1.5),(38.25,1.3)],[(39.1,1.25)],[(39.7,1.3),(40.15,1.3),(39.9,1.7),(40.25,1.9)],
 [(40.8,1.25),(41,1.3),(41.2,1.5),(40.85,1.6)],[(41.9,1.3),(42.15,1.3),(41.95,1.6)],[(42.7,1.3),(42.95,1.25),(43,1.5),(43.2,1.3)],[(43.8,1.3),(43.95,1.25),(44.15,1.3),(44.2,1.5),(43.9,1.7)],[(44.8,1.25)],
]

na_titles = ("Negative affect", "Ordered by mean; higher score reflects more NA", "Negative affect score")
dep_titles = ("Depression", "Ordered by mean; higher score reflects more symptoms", "Depression symptoms")
anx_titles = ("Anxiety", "Ordered by mean; higher score reflects more symptoms", "Anxiety symptoms")
cry_titles = ("Crying", "Ordered by mean crying (minutes)", "Crying in past 1 hour (minutes)")
x_title = "Participant"

W, H = 1050, 792
FONT = "Liberation Sans, Arial, sans-serif"

na_rows = [a + b for a, b in zip(na_points, na_more_points, strict=True)]
cry_rows = [a + b for a, b in zip(cry_points, cry_more_points, strict=True)]

# panel: rows, colours, titles, n participants, pixel box, y range, y tick step, y label pixel x
panels = [
 (na_rows, na_colors, na_titles, 52, (67,519,62,357), (3.1,36.5), 10, 27),
 (dep_points, dep_colors, dep_titles, 52, (576,1036,62,357), (-.8,8.48), 2, 544),
 (anx_points, anx_colors, anx_titles, 52, (59,519,456,752), (-.81,8.46), 2, 27),
 (cry_rows, cry_colors, cry_titles, 45, (584,1037,456,752), (.13,24.6), 5, 544),
]

fig = go.Figure()
annos = []
layout = {}
for k, (pts, cols, titles, n, (x0,x1,y0,y1), yr, step, ylab_x) in enumerate(panels, 1):
    xa, ya = f"xaxis{k}", f"yaxis{k}"
    for part, (group, col) in enumerate(zip(pts, cols, strict=True), 1):
        fig.add_trace(go.Scatter(x=[p[0] for p in group], y=[p[1] for p in group], mode="markers",
                                 xaxis=f"x{k}", yaxis=f"y{k}", name=f"{titles[0]} {part}", showlegend=False,
                                 marker=dict(size=7.6, color=col, line=dict(width=0)), hoverinfo="skip"))
    layout[xa] = dict(domain=[x0/W, x1/W], range=[0.45, n+.55], anchor=f"y{k}", tickmode="array",
                      tickvals=list(range(1,n+1)), ticktext=[""]*n, ticks="outside", ticklen=3, tickwidth=1,
                      tickcolor="#333333", showgrid=True, gridcolor="#EFEFEF", gridwidth=1.5, zeroline=False,
                      showline=True, mirror=True, linecolor="#8A8A8A", linewidth=1.5)
    layout[ya] = dict(domain=[1-y1/H, 1-y0/H], range=list(yr), anchor=f"x{k}", dtick=step, tick0=0, ticks="outside",
                      ticklen=3, tickwidth=1, tickcolor="#333333", showgrid=True, gridcolor="#EFEFEF", gridwidth=1.5,
                      minor=dict(dtick=step/2, tick0=0, showgrid=True, gridcolor="#F4F4F4", gridwidth=1, ticks=""),
                      zeroline=False, showline=True, mirror=True, linecolor="#8A8A8A", linewidth=1.5,
                      tickfont=dict(family=FONT, size=14, color="#4D4D4D"))
    lower = y0 > 300
    def txt(s, x, y, size, xanchor="left", angle=0, color="#000000"):
        annos.append(dict(text=s, x=x/W, y=1-y/H, xref="paper", yref="paper", showarrow=False, xanchor=xanchor,
                          yanchor="middle", textangle=angle, font=dict(family=FONT, size=size, color=color)))
    txt(titles[0], x0-2, y0-43, 22.5)
    txt(titles[1], x0-2, y0-16, 15.5)
    txt(x_title, (x0+x1)/2, y1+(18 if lower else 20), 22.3, "center")
    txt(titles[2], ylab_x, (y0+y1)/2, 22.8, "center", -90)

fig.update_layout(width=W, height=H, margin=dict(l=0,r=0,t=0,b=0), autosize=False, paper_bgcolor="white",
                  plot_bgcolor="white", showlegend=False, annotations=annos, **layout)
fig.write_html("out.html", config={"displayModeBar": False}, post_script="document.body.style.margin='0';")
